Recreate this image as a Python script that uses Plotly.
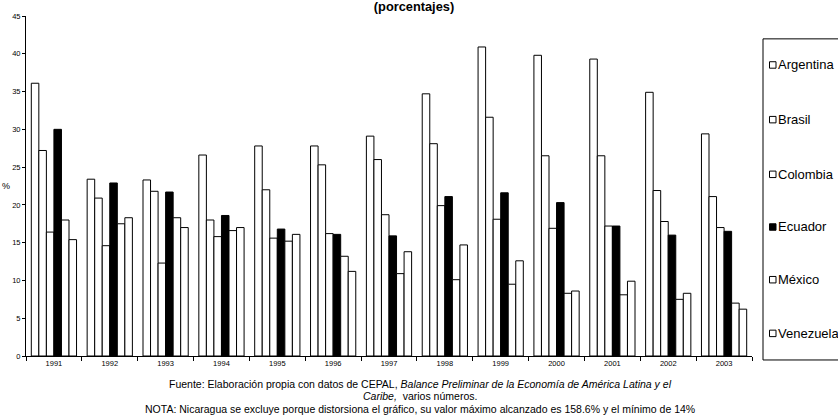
import plotly.graph_objects as go

# Yearly series (percent)
years = ["1991", "1992", "1993", "1994", "1995", "1996", "1997",
         "1998", "1999", "2000", "2001", "2002", "2003"]
argentina = [36.1, 23.4, 23.3, 26.6, 27.8, 27.8, 29.1, 34.7, 40.9, 39.8, 39.3, 34.9, 29.4]
brasil = [27.2, 20.9, 21.8, 18.0, 22.0, 25.3, 26.0, 28.1, 31.6, 26.5, 26.5, 21.9, 21.1]
colombia = [16.4, 14.6, 12.3, 15.8, 15.6, 16.2, 18.7, 19.9, 18.1, 16.9, 17.2, 17.8, 17.0]
ecuador = [30.0, 22.9, 21.7, 18.6, 16.8, 16.1, 15.9, 21.1, 21.6, 20.3, 17.2, 16.0, 16.5]
mexico = [18.0, 17.5, 18.3, 16.6, 15.2, 13.2, 10.9, 10.1, 9.5, 8.3, 8.1, 7.5, 7.0]
venezuela = [15.4, 18.3, 17.0, 17.0, 16.1, 11.2, 13.8, 14.7, 12.6, 8.6, 9.9, 8.3, 6.2]

series_names = ["Argentina", "Brasil", "Colombia", "Ecuador", "México", "Venezuela"]
series_values = [argentina, brasil, colombia, ecuador, mexico, venezuela]
series_fill = ["#ffffff", "#ffffff", "#ffffff", "#000000", "#ffffff", "#ffffff"]

FONT = "Liberation Sans, Arial, sans-serif"
W, H = 838, 416
L, R, T, B = 26, 86, 14, 60
PW, PH = W - L - R, H - T - B


def px_x(px):
    return (px - L) / PW


def px_y(py):
    return (H - B - py) / PH


fig = go.Figure()
for name, vals, fill in zip(series_names, series_values, series_fill):
    fig.add_trace(go.Bar(
        x=years, y=vals, name=name,
        marker=dict(color=fill, line=dict(color="#000000", width=1)),
        showlegend=False,
    ))

# Boxed legend on the right
shapes = [dict(type="rect", xref="paper", yref="paper",
               x0=px_x(763), x1=px_x(860), y0=px_y(360), y1=px_y(37),
               line=dict(color="#000000", width=1), fillcolor="rgba(0,0,0,0)")]
annotations = []
legend_y = [63, 118, 173, 226, 279, 333]
for name, fill, yy in zip(series_names, series_fill, legend_y):
    shapes.append(dict(type="rect", xref="paper", yref="paper",
                       x0=px_x(769.5), x1=px_x(776), y0=px_y(yy + 3.5), y1=px_y(yy - 3),
                       line=dict(color="#000000", width=1), fillcolor=fill))
    annotations.append(dict(text=name, xref="paper", yref="paper",
                            x=px_x(776), y=px_y(yy), xanchor="left", yanchor="middle",
                            showarrow=False, font=dict(family=FONT, size=13, color="#000000")))

# Axis unit label
annotations.append(dict(text="%", xref="paper", yref="paper",
                        x=px_x(0), y=px_y(185), xanchor="left", yanchor="middle",
                        showarrow=False, font=dict(family=FONT, size=9, color="#000000")))

# Source notes
notes = [
    (384.5, "Fuente: Elaboración propia con datos de CEPAL, <i>Balance Preliminar de la Economía de América Latina y el</i>"),
    (396.7, "<i>Caribe,</i>  varios números."),
    (408.9, "NOTA: Nicaragua se excluye porque distorsiona el gráfico, su valor máximo alcanzado es 158.6% y el mínimo de 14%"),
]
for yy, txt in notes:
    annotations.append(dict(text=txt, xref="paper", yref="paper",
                            x=px_x(420), y=px_y(yy), xanchor="center", yanchor="middle",
                            showarrow=False, font=dict(family=FONT, size=10.5, color="#000000")))

fig.update_layout(
    width=W, height=H,
    margin=dict(l=L, r=R, t=T, b=B, pad=0),
    paper_bgcolor="#ffffff", plot_bgcolor="#ffffff",
    barmode="group", bargap=0.19, bargroupgap=0,
    font=dict(family=FONT, color="#000000"),
    title=dict(text="<b>(porcentajes)</b>", x=414 / W, xanchor="center",
               y=1 - 7 / H, yanchor="middle",
               font=dict(family=FONT, size=12.8, color="#000000")),
    xaxis=dict(type="category", showgrid=False, showline=True, linecolor="#000000",
               linewidth=1, ticks="outside", tickson="boundaries", ticklen=4,
               tickcolor="#000000", tickfont=dict(family=FONT, size=7.5)),
    yaxis=dict(range=[0, 45], dtick=5, showgrid=False, showline=True,
               linecolor="#000000", linewidth=1, ticks="outside", ticklen=3,
               tickcolor="#000000", tickfont=dict(family=FONT, size=7.5),
               zeroline=False),
    shapes=shapes,
    annotations=annotations,
)

fig.write_html("out.html")
